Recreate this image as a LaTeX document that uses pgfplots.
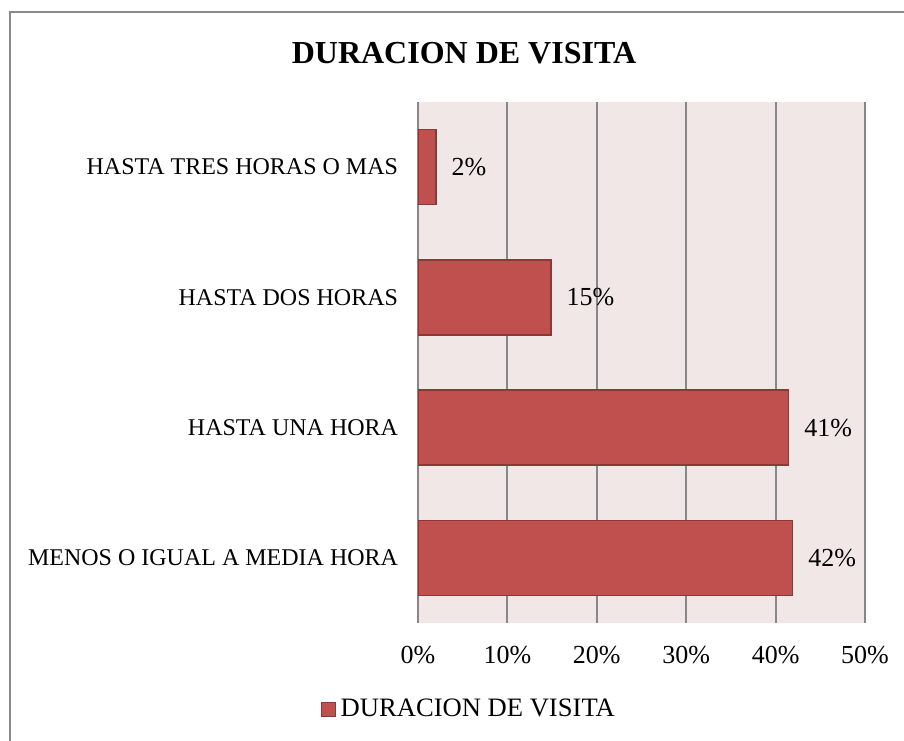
\documentclass[border=0pt]{standalone}
\usepackage{pgfplots}
\pgfplotsset{compat=1.18}
\usepackage{fontspec}
\setmainfont{Liberation Serif}
\definecolor{barred}{HTML}{C0504D}
\definecolor{bardark}{HTML}{8C3836}
\definecolor{bgpink}{HTML}{F2E7E7}
\definecolor{gridgray}{HTML}{878787}
\definecolor{framegray}{HTML}{8A8A8A}
\begin{document}
\begin{tikzpicture}
\useasboundingbox (0,0) rectangle (452pt,-370pt);
\draw[framegray, line width=0.8pt] (5pt,-6pt) rectangle (470pt,-390pt);
\node[font=\fontsize{16}{19}\selectfont\bfseries] at (232pt,-26.5pt) {DURACION DE VISITA};
\begin{axis}[
  at={(209pt,-311.5pt)}, anchor=south west,
  scale only axis, width=223.5pt, height=260.5pt,
  xbar, bar width=37.5pt,
  xmin=0, xmax=50, ymin=-0.5, ymax=3.5,
  axis background/.style={fill=bgpink},
  axis line style={draw=none},
  tick style={draw=none},
  xmajorgrids, grid style={gridgray, line width=1pt},
  xtick={0,10,20,30,40,50},
  xticklabels={0\%,10\%,20\%,30\%,40\%,50\%},
  ytick={0,1,2,3},
  yticklabels={MENOS O IGUAL A MEDIA HORA,HASTA UNA HORA,HASTA DOS HORAS,HASTA TRES HORAS O MAS},
  xticklabel style={font=\fontsize{13}{15}\selectfont, anchor=center, inner sep=0pt, yshift=-16pt},
  yticklabel style={font=\fontsize{12}{14}\selectfont, anchor=east, inner sep=0pt, xshift=-5.5pt},
  point meta=explicit symbolic,
  nodes near coords,
  every node near coord/.append style={font=\fontsize{13}{15}\selectfont, anchor=west, inner sep=0pt, xshift=7.5pt},
  legend style={at={(0.112,-0.166)}, anchor=center, draw=none, fill=none,
    font=\fontsize{13.3}{15}\selectfont, inner sep=0pt,
    nodes={inner sep=0pt}, /tikz/every even column/.append style={column sep=0pt}},
  legend image code/.code={\draw[fill=barred, draw=bardark, line width=0.6pt] (0pt,-3.5pt) rectangle (7pt,3.5pt); \path (9pt,0pt);},
]
\addplot[fill=barred, draw=bardark, line width=0.8pt] coordinates {
  (41.9,0) [42\%]
  (41.45,1) [41\%]
  (14.85,2) [15\%]
  (2.0,3) [2\%]
};
\addlegendentry{DURACION DE VISITA}
\end{axis}
\end{tikzpicture}
\end{document}
